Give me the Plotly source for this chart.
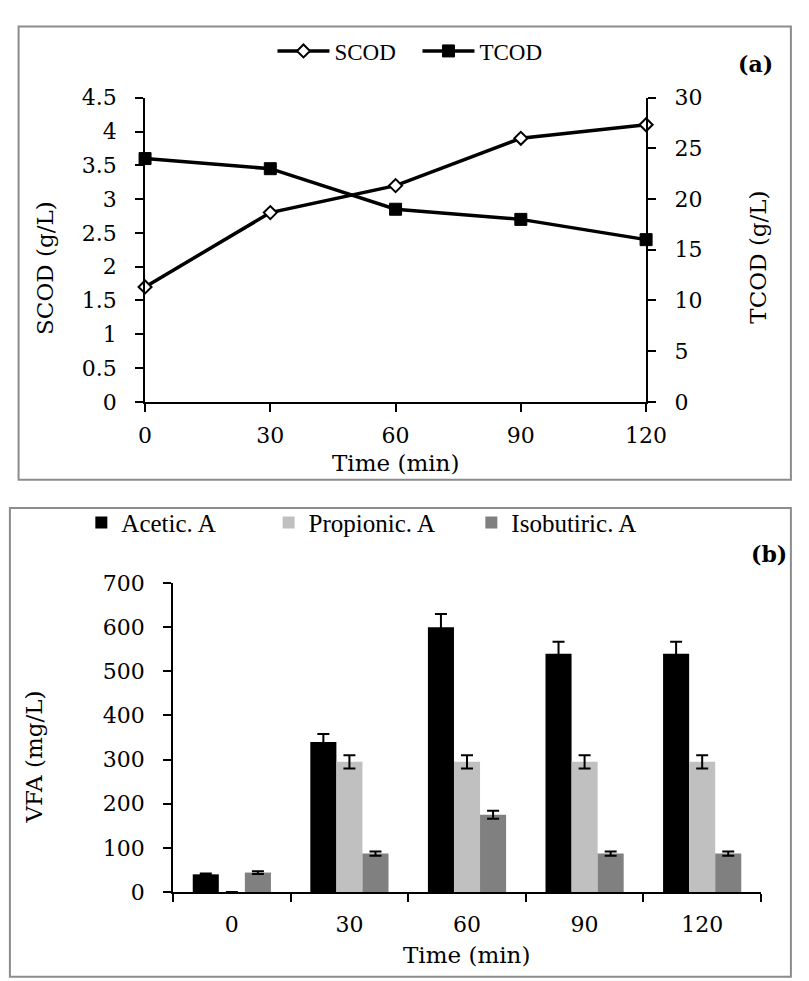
import plotly.graph_objects as go

W, H = 809, 981
def px(x): return x / W
def py(y): return 1 - y / H

# ---- data (a)
time_min = [0, 30, 60, 90, 120]
scod = [1.7, 2.8, 3.2, 3.9, 4.1]
tcod = [24, 23, 19, 18, 16]

# ---- data (b)
categories = ["0", "30", "60", "90", "120"]
acetic = [40, 340, 600, 540, 540]
acetic_err = [2, 18, 30, 27, 27]
propionic = [0, 295, 295, 295, 295]
propionic_err = [0, 15, 15, 15, 15]
isobutiric = [44, 87, 175, 87, 87]
isobutiric_err = [3, 5, 9, 5, 5]

SERIF = "DejaVu Serif"
LEG = "Liberation Serif"
FS = 22

fig = go.Figure()

fig.add_trace(go.Scatter(
    x=time_min, y=scod, name="SCOD", mode="lines+markers",
    line=dict(color="black", width=3.5),
    marker=dict(symbol="diamond", size=10, color="white", line=dict(color="black", width=2)),
    xaxis="x", yaxis="y", legend="legend", cliponaxis=False))
fig.add_trace(go.Scatter(
    x=time_min, y=tcod, name="TCOD", mode="lines+markers",
    line=dict(color="black", width=3.5),
    marker=dict(symbol="square", size=12, color="black", line=dict(color="black", width=1)),
    xaxis="x", yaxis="y2", legend="legend", cliponaxis=False))

err_style = dict(type="data", visible=True, color="black", thickness=2, width=6)
bar_series = [
    ("Acetic. A", acetic, acetic_err, "#000000", "legend2"),
    ("Propionic. A", propionic, propionic_err, "#c0c0c0", "legend3"),
    ("Isobutiric. A", isobutiric, isobutiric_err, "#808080", "legend4"),
]
for name, vals, errs, col, leg in bar_series:
    fig.add_trace(go.Bar(
        x=categories, y=vals, name=name, marker=dict(color=col, line=dict(width=0)),
        error_y=dict(array=errs, **err_style),
        xaxis="x2", yaxis="y3", legend=leg))

axis_common = dict(
    showline=True, linecolor="black", linewidth=2,
    ticks="outside", ticklen=8, tickwidth=2, tickcolor="black",
    showgrid=False, zeroline=False,
    tickfont=dict(family=SERIF, size=FS, color="black"),
)

leg_b = dict(orientation="h", xanchor="left", y=py(524), yanchor="middle",
             font=dict(family=LEG, size=25, color="black"), bgcolor="rgba(0,0,0,0)")

fig.update_layout(
    width=W, height=H, margin=dict(l=0, r=0, t=0, b=0),
    paper_bgcolor="white", plot_bgcolor="white",
    barmode="group", bargap=0.335, bargroupgap=0,
    xaxis=dict(domain=[px(143), px(662)], anchor="y", range=[0, 120],
               tickvals=time_min, ticklabelstandoff=5, **axis_common),
    yaxis=dict(domain=[py(400), py(88)], anchor="x", range=[0, 4.5], dtick=0.5,
               ticklabelstandoff=14, **axis_common),
    yaxis2=dict(overlaying="y", side="right", anchor="x", range=[0, 30], dtick=5,
                ticklabelstandoff=14, **axis_common),
    xaxis2=dict(domain=[px(172), px(781)], anchor="y3", type="category",
                range=[-0.5, 4.5], tickson="boundaries", ticklabelstandoff=12,
                **axis_common),
    yaxis3=dict(domain=[py(903), py(586)], anchor="x2", range=[0, 700], dtick=100,
                ticklabelstandoff=14, **axis_common),
    legend=dict(orientation="h", x=px(275), xanchor="left", y=py(40), yanchor="middle",
                font=dict(family=LEG, size=23, color="black"), bgcolor="rgba(0,0,0,0)",
                itemwidth=52, entrywidth=78, entrywidthmode="pixels"),
    legend2=dict(x=px(77), **leg_b),
    legend3=dict(x=px(271), **leg_b),
    legend4=dict(x=px(481), **leg_b),
    showlegend=True,
)

tfont = dict(family=SERIF, size=23, color="black")
annos = [
    dict(text="Time (min)", x=px(402), y=py(463)),
    dict(text="SCOD (g/L)", x=px(40), y=py(263), textangle=-90),
    dict(text="TCOD (g/L)", x=px(778), y=py(252), textangle=-90),
    dict(text="Time (min)", x=px(476), y=py(968)),
    dict(text="VFA (mg/L)", x=px(27), y=py(765), textangle=-90),
]
for a in annos:
    fig.add_annotation(xref="paper", yref="paper", showarrow=False,
                       xanchor="center", yanchor="middle", font=tfont, **a)
for lbl, xx, yy in [("(a)", 775, 53), ("(b)", 789, 556)]:
    fig.add_annotation(text="<b>" + lbl + "</b>", xref="paper", yref="paper",
                       x=px(xx), y=py(yy), xanchor="center", yanchor="middle",
                       showarrow=False, font=dict(family=SERIF, size=22, color="black"))

border = dict(color="#8c8c8c", width=2)
fig.add_shape(type="rect", xref="paper", yref="paper",
              x0=px(12), x1=px(812), y0=py(480), y1=py(15), line=border, layer="below")
fig.add_shape(type="rect", xref="paper", yref="paper",
              x0=px(3), x1=px(812), y0=py(990), y1=py(509), line=border, layer="below")

fig.write_html("out.html")
